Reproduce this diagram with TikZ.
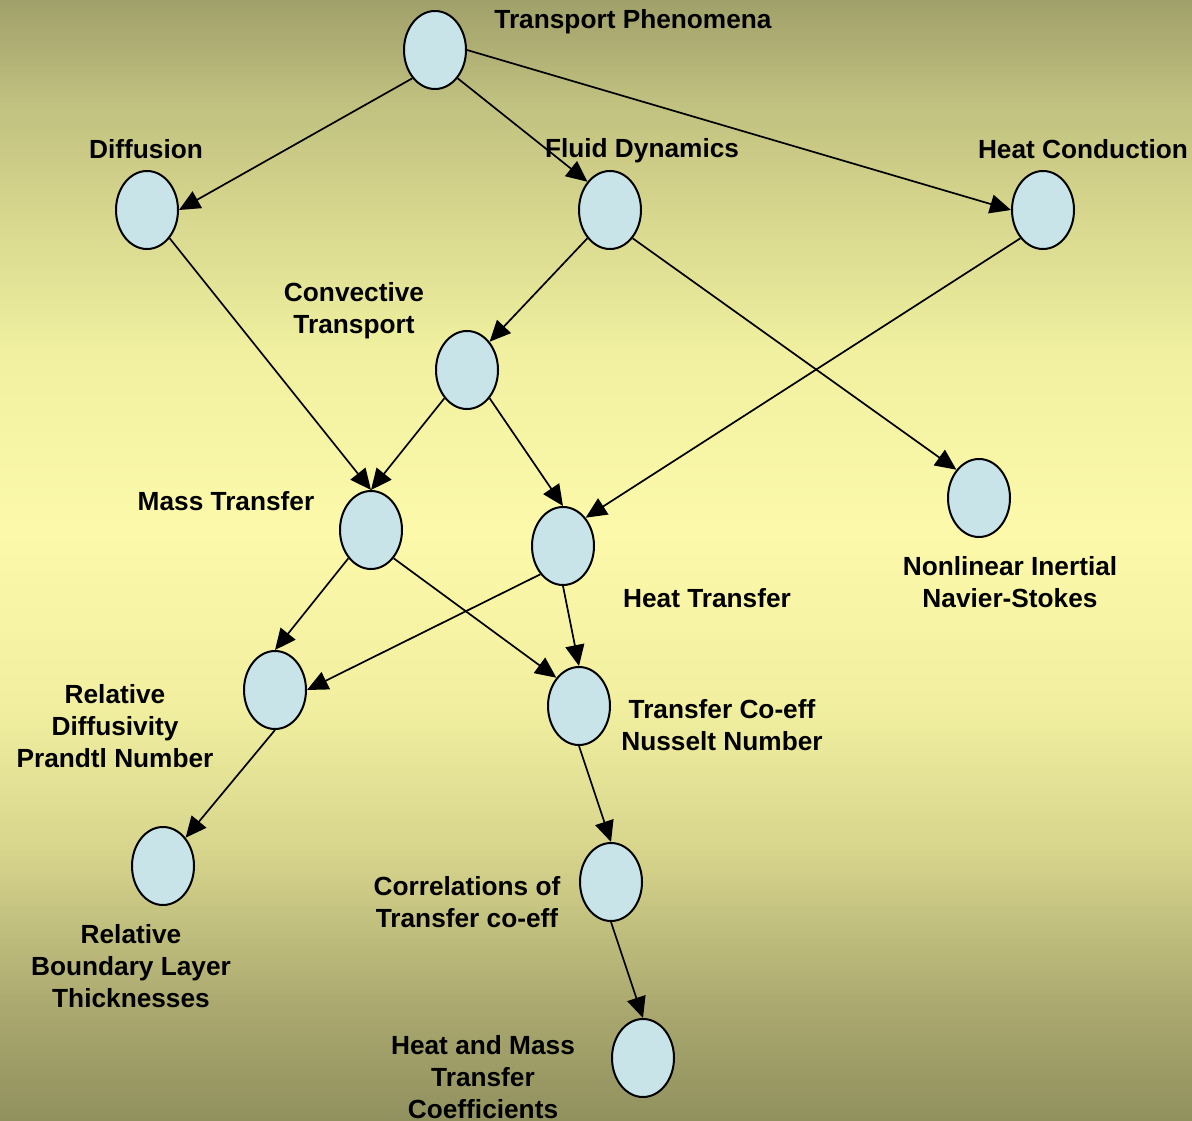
\documentclass[tikz,border=0pt]{standalone}
\usepackage{fontspec}
\setmainfont{Liberation Sans}
\usetikzlibrary{shapes.geometric,arrows.meta}

% background band colours, top to bottom
\definecolor{bgA}{RGB}{160,160,106}
\definecolor{bgB}{RGB}{192,192,128}
\definecolor{bgC}{RGB}{212,212,140}
\definecolor{bgD}{RGB}{240,240,160}
\definecolor{bgE}{RGB}{252,250,170}
\definecolor{bgF}{RGB}{242,240,160}
\definecolor{bgG}{RGB}{215,213,140}
\definecolor{bgH}{RGB}{172,170,112}
\definecolor{bgI}{RGB}{145,145,95}
\definecolor{bubble}{RGB}{200,228,232}

\tikzset{
  topic/.style={ellipse, draw=black, line width=2pt, fill=bubble,
    minimum width=62pt, minimum height=78pt, inner sep=0pt},
  caption/.style={font=\bfseries\fontsize{26.25}{32}\selectfont,
    align=center, inner sep=0pt, anchor=center},
  link/.style={line width=1.7pt, draw=black,
    -{Triangle[length=21pt,width=19pt]}},
}

\begin{document}
\begin{tikzpicture}[x=1pt,y=-1pt]
\useasboundingbox (0,0) rectangle (1192,1121);

% vertical background gradient, drawn in bands
\shade[top color=bgA, bottom color=bgB] (0,0)    rectangle (1192,101);
\shade[top color=bgB, bottom color=bgC] (0,100)  rectangle (1192,201);
\shade[top color=bgC, bottom color=bgD] (0,200)  rectangle (1192,351);
\shade[top color=bgD, bottom color=bgE] (0,350)  rectangle (1192,531);
\shade[top color=bgE, bottom color=bgF] (0,530)  rectangle (1192,701);
\shade[top color=bgF, bottom color=bgG] (0,700)  rectangle (1192,851);
\shade[top color=bgG, bottom color=bgH] (0,850)  rectangle (1192,1001);
\shade[top color=bgH, bottom color=bgI] (0,1000) rectangle (1192,1121);

% topic bubbles
\node[topic] (tp)   at (435,50)   {};
\node[topic] (dif)  at (147,210)  {};
\node[topic] (fd)   at (610,210)  {};
\node[topic] (hc)   at (1043,210) {};
\node[topic] (ct)   at (467,370)  {};
\node[topic] (mt)   at (371,530)  {};
\node[topic] (ht)   at (563,546)  {};
\node[topic] (nl)   at (979,498)  {};
\node[topic] (rd)   at (275,690)  {};
\node[topic] (tc)   at (579,706)  {};
\node[topic] (rb)   at (163,866)  {};
\node[topic] (cor)  at (611,882)  {};
\node[topic] (hmt)  at (643,1058) {};

% captions
\node[caption] (tpL)  at (633,22)   {Transport Phenomena};
\node[caption] (difL) at (146,149)  {Diffusion};
\node[caption] (fdL)  at (642,151)  {Fluid Dynamics};
\node[caption] (hcL)  at (1083,149) {Heat Conduction};
\node[caption] (ctL)  at (354,311)  {Convective\\Transport};
\node[caption] (mtL)  at (226,501)  {Mass Transfer};
\node[caption] (htL)  at (707,598)  {Heat Transfer};
\node[caption] (nlL)  at (1010,582) {Nonlinear Inertial\\Navier-Stokes};
\node[caption] (rdL)  at (115,726)  {Relative\\Diffusivity\\Prandtl Number};
\node[caption] (tcL)  at (722,725)  {Transfer Co-eff\\Nusselt Number};
\node[caption] (rbL)  at (131,966)  {Relative\\Boundary Layer\\Thicknesses};
\node[caption] (corL) at (467,902)  {Correlations of\\Transfer co-eff};
\node[caption] (hmtL) at (483,1077) {Heat and Mass\\Transfer\\Coefficients};

% connectors
\draw[link] (tp.south west) -- (dif.east);
\draw[link] (tp.south east) -- (fd.north west);
\draw[link] (tp.east)       -- (hc.west);
\draw[link] (dif.south east) -- (mt.north);
\draw[link] (fd.south west) -- (ct.north east);
\draw[link] (fd.south east) -- (nl.north west);
\draw[link] (hc.south west) -- (ht.north east);
\draw[link] (ct.south west) -- (mt.north);
\draw[link] (ct.south east) -- (ht.north);
\draw[link] (mt.south west) -- (rd.north);
\draw[link] (mt.south east) -- (tc.north west);
\draw[link] (ht.south west) -- (rd.east);
\draw[link] (ht.south)      -- (tc.north);
\draw[link] (rd.south)      -- (rb.north east);
\draw[link] (tc.south)      -- (cor.north);
\draw[link] (cor.south)     -- (hmt.north);
\end{tikzpicture}
\end{document}
